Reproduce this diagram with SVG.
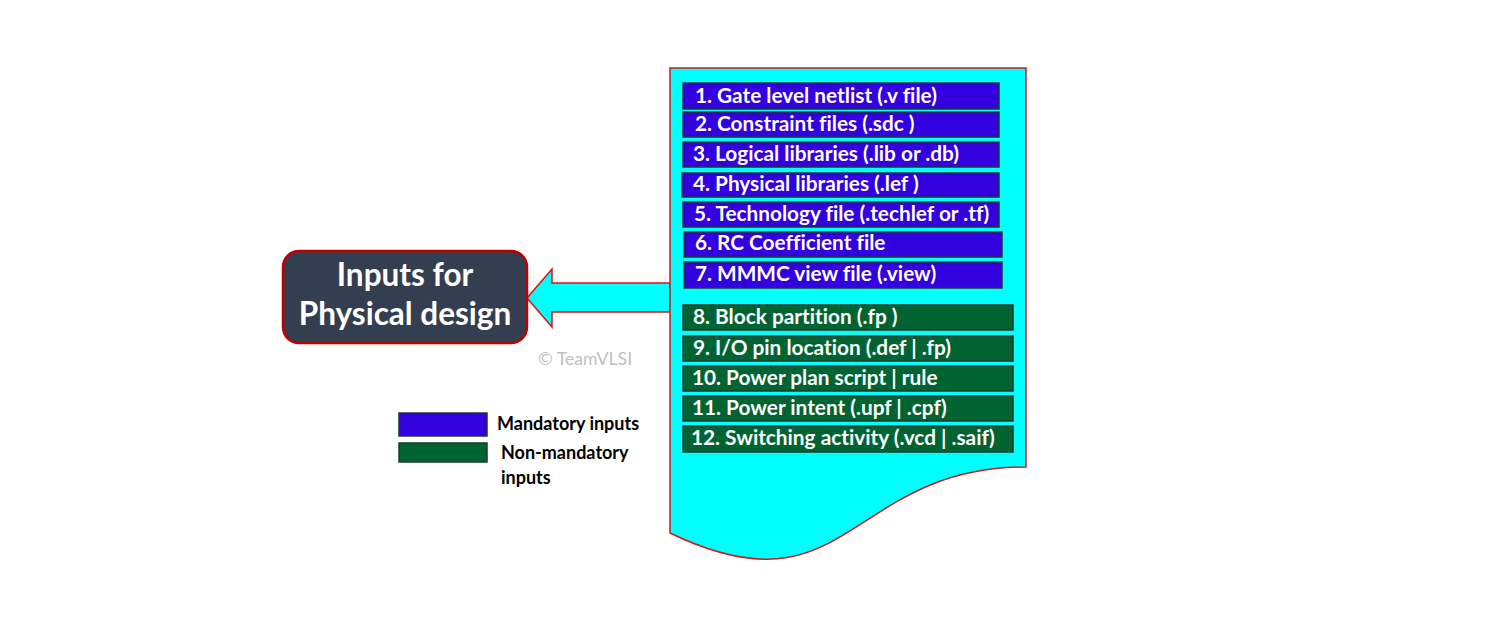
<svg xmlns="http://www.w3.org/2000/svg" width="1492" height="636" viewBox="0 0 1492 636">
<style>
text{font-variant-ligatures:none}
.bl{fill:#3300DF;stroke:#1E3636;stroke-width:1.5}
.gr{fill:#006432;stroke:#1E3A2A;stroke-width:1.5}
.bt{font-family:Lato,"Liberation Sans",sans-serif;font-weight:bold;font-size:20.8px;fill:#FFFFFF}
.lg{font-family:Lato,"Liberation Sans",sans-serif;font-weight:bold;font-size:18px;fill:#000000}
</style>
<rect width="1492" height="636" fill="#FFFFFF"/>
<g id="connectors">
<path d="M670,283 H552 V269 L527,298 L552,327 V312 H670 Z" fill="#00FFFF" stroke="#E01010" stroke-width="1.5"/>
</g>
<g id="document">
<path d="M670,68 H1026 V467 C848,467 848,619 670,533 Z" fill="#00FFFF" stroke="#D01818" stroke-width="1.5"/>
</g>
<g id="target">
<rect x="283" y="251" width="244" height="92" rx="16" fill="#333F50" stroke="#C00000" stroke-width="2.5"/>
<text x="405" y="286" text-anchor="middle" font-family="Lato,'Liberation Sans',sans-serif" font-weight="bold" font-size="31.5" fill="#FFFFFF">Inputs for</text>
<text x="405" y="325" text-anchor="middle" font-family="Lato,'Liberation Sans',sans-serif" font-weight="bold" font-size="31.5" fill="#FFFFFF">Physical design</text>
</g>
<text x="538" y="365" font-family="Lato,'Liberation Sans',sans-serif" font-size="17.7" fill="#BFBFBF">© TeamVLSI</text>
<g id="item1"><rect class="bl" x="683" y="83" width="316" height="26"/><text class="bt" x="695" y="103">1. Gate level netlist (.v file)</text></g>
<g id="item2"><rect class="bl" x="683" y="112" width="316" height="25"/><text class="bt" x="695" y="131">2. Constraint files (.sdc )</text></g>
<g id="item3"><rect class="bl" x="683" y="142" width="316" height="25"/><text class="bt" x="693" y="161">3. Logical libraries (.lib or .db)</text></g>
<g id="item4"><rect class="bl" x="682" y="173" width="317" height="24"/><text class="bt" x="693" y="191">4. Physical libraries (.lef )</text></g>
<g id="item5"><rect class="bl" x="683" y="202" width="316" height="25"/><text class="bt" x="694" y="221">5. Technology file (.techlef or .tf)</text></g>
<g id="item6"><rect class="bl" x="684" y="232" width="318" height="25"/><text class="bt" x="695" y="250">6. RC Coefficient file</text></g>
<g id="item7"><rect class="bl" x="684" y="262" width="318" height="26"/><text class="bt" x="695" y="281">7. MMMC view file (.view)</text></g>
<g id="item8"><rect class="gr" x="683" y="305" width="330" height="25"/><text class="bt" x="693" y="324">8. Block partition (.fp )</text></g>
<g id="item9"><rect class="gr" x="683" y="336" width="330" height="25"/><text class="bt" x="693" y="355">9. I/O pin location (.def | .fp)</text></g>
<g id="item10"><rect class="gr" x="683" y="366" width="330" height="25"/><text class="bt" x="692" y="385">10. Power plan script | rule</text></g>
<g id="item11"><rect class="gr" x="683" y="396" width="330" height="25"/><text class="bt" x="692" y="415">11. Power intent (.upf | .cpf)</text></g>
<g id="item12"><rect class="gr" x="683" y="426" width="330" height="26"/><text class="bt" x="691" y="445">12. Switching activity (.vcd | .saif)</text></g>
<g id="legend">
<rect class="bl" x="399" y="413" width="88" height="23"/>
<rect class="gr" x="399" y="443" width="88" height="19"/>
<text class="lg" x="497" y="430">Mandatory inputs</text>
<text class="lg" x="501" y="459">Non-mandatory</text>
<text class="lg" x="501" y="484">inputs</text>
</g>
</svg>
